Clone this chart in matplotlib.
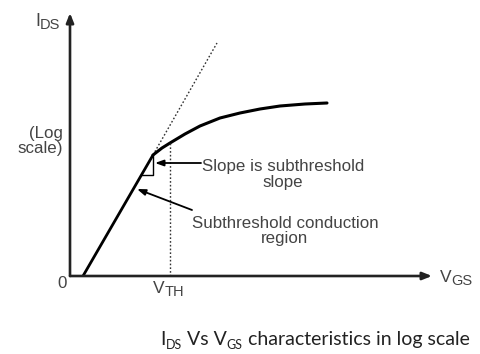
import matplotlib
matplotlib.use("Agg")
import matplotlib.pyplot as plt
from matplotlib import transforms

# Gate voltage (arbitrary units) and log drain current (arbitrary units)
vgs_subthreshold = [0.13, 0.83]
log_ids_subthreshold = [0.00, 1.21]
vgs_extension = [0.83, 1.47]
log_ids_extension = [1.21, 2.33]
vgs_above = [0.83, 0.92, 1.00, 1.15, 1.30, 1.50, 1.70, 1.90, 2.10, 2.35, 2.57]
log_ids_above = [1.21, 1.28, 1.33, 1.42, 1.50, 1.58, 1.63, 1.67, 1.70, 1.72, 1.73]
v_th = 1.00
x_axis_end = 3.62
y_axis_end = 2.63

W, H, DPI = 480, 354, 100
fig = plt.figure(figsize=(W / DPI, H / DPI), dpi=DPI)
ax = fig.add_axes([70 / W, (H - 276) / H, 362 / W, 263 / H])
ax.set_xlim(0, x_axis_end)
ax.set_ylim(0, y_axis_end)
ax.axis("off")

LABEL_FONT = "Liberation Sans"
GREY = "#444444"

# Axes with arrow heads
axis_style = dict(arrowstyle="-|>,head_length=0.55,head_width=0.22", color="#222222",
                  lw=1.9, shrinkA=0, shrinkB=0)
ax.annotate("", xy=(x_axis_end, 0), xytext=(0, 0), arrowprops=axis_style,
            annotation_clip=False)
ax.annotate("", xy=(0, y_axis_end), xytext=(0, 0), arrowprops=axis_style,
            annotation_clip=False)

# Subthreshold line, its dotted extension and the above-threshold curve
ax.plot(vgs_subthreshold, log_ids_subthreshold, color="black", lw=2.0,
        solid_capstyle="butt", clip_on=False)
ax.plot(vgs_extension, log_ids_extension, color="#333333", lw=1.0, ls=(0, (1.2, 1.5)),
        clip_on=False)
ax.plot(vgs_above, log_ids_above, color="black", lw=2.2, solid_joinstyle="round",
        solid_capstyle="round", clip_on=False)

# Threshold marker
ax.plot([v_th, v_th], [0, log_ids_above[2]], color="#333333", lw=1.0,
        ls=(0, (1.2, 1.5)), clip_on=False)

# Slope triangle under the subthreshold line
slope = (log_ids_subthreshold[1] - log_ids_subthreshold[0]) / (
    vgs_subthreshold[1] - vgs_subthreshold[0])
tri_y = log_ids_subthreshold[1] - 0.20
tri_x = vgs_subthreshold[0] + tri_y / slope
ax.plot([tri_x, vgs_subthreshold[1], vgs_subthreshold[1]],
        [tri_y, tri_y, log_ids_subthreshold[1]], color="black", lw=1.0,
        clip_on=False)

# Callouts
arrow_style = dict(arrowstyle="-|>,head_length=0.5,head_width=0.18", color="black",
                   lw=1.3, shrinkA=0, shrinkB=0)
ax.annotate("", xy=(0.85, 1.13), xytext=(1.31, 1.13), arrowprops=arrow_style,
            annotation_clip=False)
ax.annotate("", xy=(0.67, 0.87), xytext=(1.22, 0.66), arrowprops=arrow_style,
            annotation_clip=False)

def px(x, y):
    return x / W, 1 - y / H

fs = 12.2
fig.text(*px(283, 174.5), "Slope is subthreshold\nslope", ha="center", va="center",
         ma="center", fontsize=fs, family=LABEL_FONT, color=GREY, linespacing=1.02)
fig.text(*px(285, 231), "Subthreshold conduction\nregion", ha="center", va="center",
         ma="center", fontsize=fs, family=LABEL_FONT, color=GREY, linespacing=0.97)
fig.text(*px(63, 141), "(Log\nscale)", ha="right", va="center", ma="right",
         fontsize=fs, family=LABEL_FONT, color=GREY, linespacing=1.03)
fig.text(*px(67, 283), "0", ha="right", va="center", fontsize=fs,
         family=LABEL_FONT, color=GREY)

renderer = fig.canvas.get_renderer()


def chain(x, y, pieces, family, color, ha="left"):
    """Draw text pieces one after another on a common baseline (pixel coords)."""
    items = []
    offset = 0.0
    for text, size, drop in pieces:
        tr = transforms.offset_copy(fig.transFigure, fig, x=offset, y=-drop, units="dots")
        t = fig.text(*px(x, y), text, fontsize=size, family=family, color=color,
                     ha="left", va="baseline", transform=tr)
        start = offset
        offset += t.get_window_extent(renderer).width
        items.append((t, start, drop))
    if ha == "center":
        shift = -offset / 2
        for t, start, drop in items:
            t.set_transform(transforms.offset_copy(fig.transFigure, fig,
                                                   x=start + shift, y=-drop,
                                                   units="dots"))


chain(35, 26, [("I", 13, 0), ("DS", 10.5, 3)], LABEL_FONT, GREY)
chain(440, 282, [("V", 12.5, 0), ("GS", 10.5, 3)], LABEL_FONT, GREY)
chain(153, 293, [("V", 12.5, 0), ("TH", 10.5, 3)], LABEL_FONT, GREY)

chain(315, 345, [("I", 14, 0), ("DS", 9, 4), (" Vs V", 14, 0), ("GS", 9, 4),
                 (" characteristics in log scale", 14, 0)], "Lato", "#222222",
      ha="center")

fig.savefig("out.png", dpi=DPI, facecolor="white")
